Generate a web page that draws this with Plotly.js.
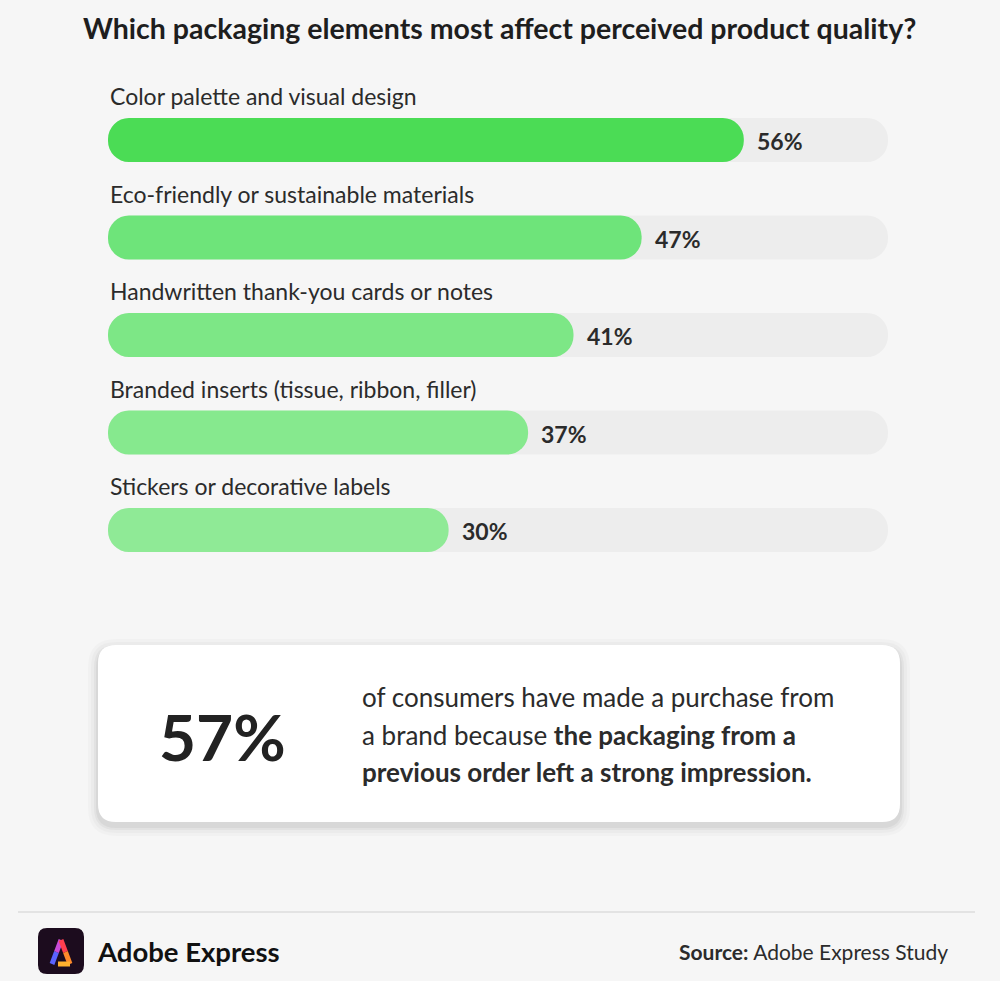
<!DOCTYPE html>
<html>
<head>
<meta charset="utf-8">
<script src="https://cdn.plot.ly/plotly-3.0.1.min.js"></script>
<style>
  html, body { margin: 0; padding: 0; background: #f6f6f6; }
  #chart { width: 1000px; height: 981px; }
</style>
</head>
<body>
<div id="chart"></div>
<script>
// ---- Data ----
const categories = [
  "Color palette and visual design",
  "Eco-friendly or sustainable materials",
  "Handwritten thank-you cards or notes",
  "Branded inserts (tissue, ribbon, filler)",
  "Stickers or decorative labels"
];
const values = [56, 47, 41, 37, 30];
const barColors = ["#4bdc55", "#6ee47a", "#7de786", "#86e98e", "#8fea96"];
const trackMax = 68.7;

const titleText = "Which packaging elements most affect perceived product quality?";
const calloutValue = "57%";
const calloutLines = [
  "of consumers have made a purchase from",
  "a brand because <b>the packaging from a</b>",
  "<b>previous order left a strong impression.</b>"
];
const brandText = "Adobe Express";
const sourceText = "<b>Source:</b> Adobe Express Study";

// ---- Layout helpers ----
const W = 1000, H = 981;
const FONT = "Lato, 'Open Sans', sans-serif";
const TXT = "#2b2b2b";
const px = x => x / W;
const py = y => 1 - y / H;

function roundedRectPath(x0, y0, x1, y1, r) {
  const p = (x, y) => px(x) + "," + py(y);
  return "M" + p(x0 + r, y0) +
    " L" + p(x1 - r, y0) + " Q" + p(x1, y0) + " " + p(x1, y0 + r) +
    " L" + p(x1, y1 - r) + " Q" + p(x1, y1) + " " + p(x1 - r, y1) +
    " L" + p(x0 + r, y1) + " Q" + p(x0, y1) + " " + p(x0, y1 - r) +
    " L" + p(x0, y0 + r) + " Q" + p(x0, y0) + " " + p(x0 + r, y0) + " Z";
}

const zeros = categories.map(() => 0);
const trackTrace = {
  type: "bar", orientation: "h",
  y: categories, x: categories.map(() => trackMax), base: zeros,
  marker: { color: "#ededed", cornerradius: 22, line: { width: 0 } },
  hoverinfo: "skip", showlegend: false
};
const valueTrace = {
  type: "bar", orientation: "h",
  y: categories, x: values, base: zeros,
  marker: { color: barColors, cornerradius: 22, line: { width: 0 } },
  hovertemplate: "%{y}: %{x}%<extra></extra>", showlegend: false
};

const annotations = [];
categories.forEach((c, i) => {
  annotations.push({
    xref: "x", yref: "y", x: 0, y: c, xanchor: "left", yanchor: "middle",
    yshift: 44, text: c, showarrow: false,
    font: { family: FONT, size: 23, color: TXT }
  });
  annotations.push({
    xref: "x", yref: "y", x: values[i], y: c, xanchor: "left", yanchor: "middle",
    xshift: 11, yshift: -1, text: "<b>" + values[i] + "%</b>", showarrow: false,
    font: { family: FONT, size: 23, color: TXT }
  });
});

// Title
annotations.push({
  xref: "paper", yref: "paper", x: 0.499, y: py(28), xanchor: "center", yanchor: "middle",
  text: "<b>" + titleText + "</b>", showarrow: false,
  font: { family: FONT, size: 28.5, color: "#1e1e1e" }
});
// Callout
annotations.push({
  xref: "paper", yref: "paper", x: px(222), y: py(736), xanchor: "center", yanchor: "middle",
  text: "<b>" + calloutValue + "</b>", showarrow: false,
  font: { family: FONT, size: 64, color: "#222" }
});
const lineYs = [697, 735, 772];
calloutLines.forEach((t, i) => {
  annotations.push({
    xref: "paper", yref: "paper", x: px(360), y: py(lineYs[i]), xanchor: "left", yanchor: "middle",
    text: t, showarrow: false,
    font: { family: FONT, size: 26, color: TXT }
  });
});
// Footer
annotations.push({
  xref: "paper", yref: "paper", x: px(95), y: py(951), xanchor: "left", yanchor: "middle",
  text: "<b>" + brandText + "</b>", showarrow: false,
  font: { family: FONT, size: 27.5, color: "#111" }
});
annotations.push({
  xref: "paper", yref: "paper", x: px(950), y: py(951), xanchor: "right", yanchor: "middle",
  text: sourceText, showarrow: false,
  font: { family: FONT, size: 21, color: TXT }
});

const shapes = [];
// card shadow layers
[[10, 0.018], [7, 0.025], [4, 0.035], [2, 0.045]].forEach(([g, op]) => {
  shapes.push({
    type: "path", xref: "paper", yref: "paper", layer: "below",
    path: roundedRectPath(98 - g, 645 - g + 4, 900 + g, 822 + g + 4, 18 + g),
    fillcolor: "rgba(0,0,0," + op + ")", line: { width: 0 }
  });
});
shapes.push({
  type: "path", xref: "paper", yref: "paper", layer: "below",
  path: roundedRectPath(98, 645, 900, 822, 18),
  fillcolor: "#ffffff", line: { width: 0 }
});
// footer divider
shapes.push({
  type: "line", xref: "paper", yref: "paper",
  x0: px(18), x1: px(975), y0: py(912), y1: py(912),
  line: { color: "#dddddd", width: 1.5 }
});
// logo square
shapes.push({
  type: "path", xref: "paper", yref: "paper",
  path: roundedRectPath(38, 928, 84, 974, 9),
  fillcolor: "#1c0c1e", line: { width: 0 }
});
// logo "A" strokes
const logoStrokes = [
  [[52, 964], [56.5, 952], "#5a63ff"],
  [[56.5, 952], [61, 940], "#c94bd8"],
  [[61, 940], [65.5, 952], "#ff3f4f"],
  [[65.5, 952], [70, 964], "#ff8a2a"],
  [[58, 964], [70, 964], "#ffb02e"]
];
logoStrokes.forEach(([a, b, c]) => {
  shapes.push({
    type: "line", xref: "paper", yref: "paper",
    x0: px(a[0]), y0: py(a[1]), x1: px(b[0]), y1: py(b[1]),
    line: { color: c, width: 5 }
  });
});

const layout = {
  width: W, height: H,
  margin: { l: 0, r: 0, t: 0, b: 0 },
  paper_bgcolor: "#f6f6f6", plot_bgcolor: "rgba(0,0,0,0)",
  barmode: "overlay", bargap: 0.549,
  xaxis: {
    domain: [px(108), px(888)], range: [0, trackMax],
    visible: false, fixedrange: true
  },
  yaxis: {
    domain: [py(578.75), py(91.25)], range: [categories.length - 0.5, -0.5],
    type: "category", visible: false, fixedrange: true
  },
  annotations: annotations,
  shapes: shapes,
  showlegend: false
};

Plotly.newPlot("chart", [trackTrace, valueTrace], layout, { displayModeBar: false, staticPlot: true });
</script>
</body>
</html>
